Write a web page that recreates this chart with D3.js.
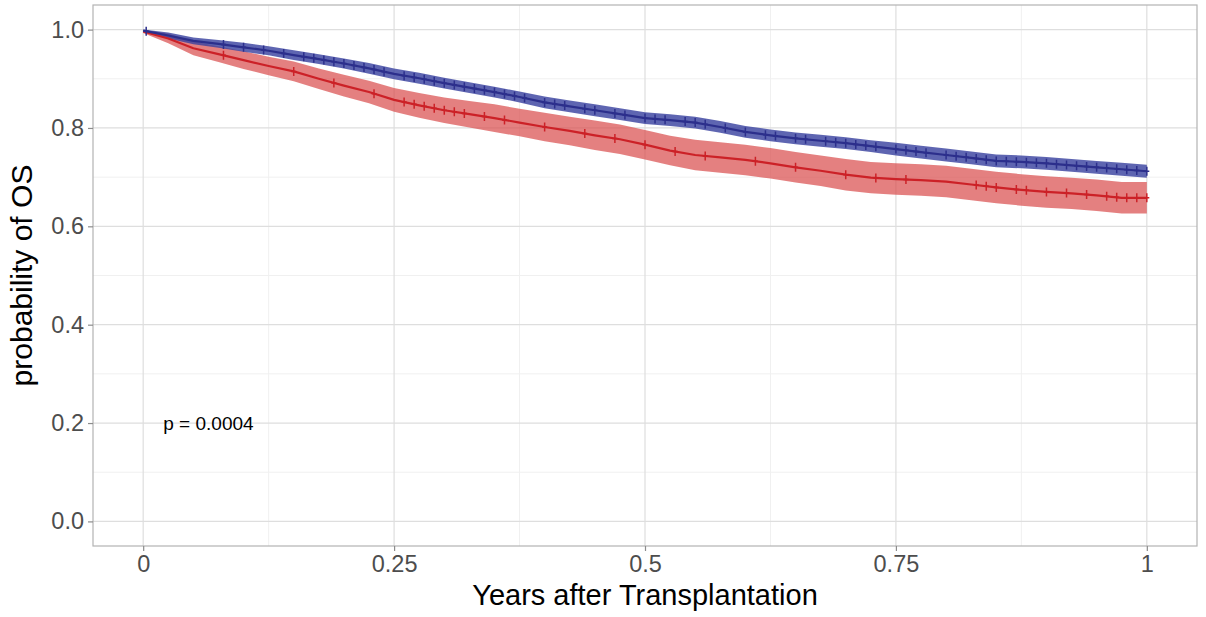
<!DOCTYPE html>
<html>
<head>
<meta charset="utf-8">
<script src="https://cdn.jsdelivr.net/npm/d3@7"></script>
<style>
  html, body { margin: 0; padding: 0; background: #fff; }
  svg { display: block; font-family: "Liberation Sans", Arial, sans-serif; }
</style>
</head>
<body>
<svg id="chart" width="1206" height="617"></svg>
<script>
// ==== Data ====
const times = [0, 0.025, 0.05, 0.075, 0.1, 0.125, 0.15, 0.175, 0.2, 0.225, 0.25, 0.275, 0.3, 0.325,
  0.35, 0.375, 0.4, 0.425, 0.45, 0.475, 0.5, 0.525, 0.55, 0.575, 0.6, 0.625, 0.65, 0.675, 0.7,
  0.725, 0.75, 0.775, 0.8, 0.825, 0.85, 0.875, 0.9, 0.925, 0.95, 0.975, 1.0];

const blueSurv = [0.998, 0.988, 0.977, 0.971, 0.964, 0.957, 0.948, 0.940, 0.931, 0.921, 0.910,
  0.901, 0.891, 0.882, 0.873, 0.863, 0.852, 0.844, 0.836, 0.828, 0.820, 0.816, 0.811, 0.802,
  0.792, 0.785, 0.779, 0.774, 0.769, 0.763, 0.757, 0.751, 0.745, 0.739, 0.733, 0.731, 0.728,
  0.724, 0.720, 0.716, 0.712];
const blueCI = [0.003, .006, .007, .008, .009, .009, .010, .010, .010, .011, .011, .011, .011, .011,
  .011, .011, .012, .012, .012, .012, .012, .012, .012, .012, .012, .012, .012, .012, .012, .012,
  .013, .013, .013, .013, .013, .013, .013, .013, .013, .013, .013];

const redSurv = [0.996, 0.982, 0.962, 0.950, 0.938, 0.926, 0.915, 0.900, 0.886, 0.873, 0.857,
  0.846, 0.836, 0.828, 0.820, 0.811, 0.802, 0.794, 0.785, 0.777, 0.766, 0.754, 0.745, 0.740,
  0.735, 0.728, 0.720, 0.713, 0.705, 0.699, 0.696, 0.694, 0.691, 0.685, 0.679, 0.674, 0.670,
  0.667, 0.663, 0.658, 0.658];
const redCI = [0.003, .010, .014, .016, .018, .019, .020, .021, .022, .023, .024, .025, .026, .027,
  .028, .028, .029, .029, .030, .030, .030, .030, .031, .031, .031, .031, .031, .031, .032, .032,
  .032, .032, .032, .032, .032, .032, .032, .032, .032, .032, .032];

const blueCensor = [0.003, 0.08, 0.1, 0.12, 0.14, 0.16, 0.17, 0.18, 0.19, 0.2, 0.21, 0.22, 0.23,
  0.24, 0.26, 0.27, 0.28, 0.29, 0.3, 0.31, 0.32, 0.33, 0.34, 0.35, 0.36, 0.37, 0.38, 0.4, 0.41,
  0.42, 0.44, 0.45, 0.47, 0.48, 0.5, 0.51, 0.52, 0.54, 0.55, 0.56, 0.58, 0.6, 0.62, 0.63, 0.65,
  0.66, 0.68, 0.69, 0.7, 0.71, 0.72, 0.73, 0.75, 0.76, 0.77, 0.78, 0.8, 0.81, 0.82, 0.83, 0.84,
  0.85, 0.86, 0.87, 0.88, 0.89, 0.9, 0.91, 0.92, 0.93, 0.94, 0.95, 0.96, 0.97, 0.98, 0.99, 1.0];
const redCensor = [0.08, 0.15, 0.19, 0.23, 0.26, 0.27, 0.28, 0.29, 0.3, 0.31, 0.32, 0.34, 0.36,
  0.4, 0.44, 0.47, 0.5, 0.53, 0.56, 0.61, 0.65, 0.7, 0.73, 0.76, 0.83, 0.84, 0.85, 0.87, 0.88,
  0.9, 0.92, 0.94, 0.96, 0.97, 0.98, 0.99, 1.0];

const xTicks = [0, 0.25, 0.5, 0.75, 1];
const xTickLabels = ["0", "0.25", "0.5", "0.75", "1"];
const xMinor = [0.125, 0.375, 0.625, 0.875];
const yTicks = [0, 0.2, 0.4, 0.6, 0.8, 1.0];
const yMinor = [0.1, 0.3, 0.5, 0.7, 0.9];
const pValue = { x: 0.02, y: 0.2, label: "p = 0.0004" };

// ==== Layout ====
const svg = d3.select("#chart");
const panel = { left: 93, right: 1197, top: 5, bottom: 546 };

const x = d3.scaleLinear().domain([-0.05, 1.05]).range([panel.left, panel.right]);
const y = d3.scaleLinear().domain([-0.05, 1.05]).range([panel.bottom, panel.top]);

// grid
const grid = svg.append("g");
grid.selectAll(".vmin").data(xMinor).join("line")
  .attr("x1", d => x(d)).attr("x2", d => x(d)).attr("y1", panel.top).attr("y2", panel.bottom)
  .attr("stroke", "#f0f0f0").attr("stroke-width", 1);
grid.selectAll(".hmin").data(yMinor).join("line")
  .attr("y1", d => y(d)).attr("y2", d => y(d)).attr("x1", panel.left).attr("x2", panel.right)
  .attr("stroke", "#f0f0f0").attr("stroke-width", 1);
grid.selectAll(".vmaj").data(xTicks).join("line")
  .attr("x1", d => x(d)).attr("x2", d => x(d)).attr("y1", panel.top).attr("y2", panel.bottom)
  .attr("stroke", "#dedede").attr("stroke-width", 1.2);
grid.selectAll(".hmaj").data(yTicks).join("line")
  .attr("y1", d => y(d)).attr("y2", d => y(d)).attr("x1", panel.left).attr("x2", panel.right)
  .attr("stroke", "#dedede").attr("stroke-width", 1.2);

// ==== Curves ====
const groups = [
  { surv: redSurv, ci: redCI, censor: redCensor, line: "#cc2127", band: "#d94a4a", bandOp: 0.7 },
  { surv: blueSurv, ci: blueCI, censor: blueCensor, line: "#2c2f8c", band: "#3b43a0", bandOp: 0.82 }
];

const area = d3.area().curve(d3.curveLinear)
  .x(d => x(d.t)).y0(d => y(d.lo)).y1(d => y(d.hi));
const line = d3.line().curve(d3.curveLinear)
  .x(d => x(d.t)).y(d => y(d.s));

const gCurves = svg.append("g");
for (const g of groups) {
  const pts = times.map((t, i) => ({ t, s: g.surv[i], lo: g.surv[i] - g.ci[i], hi: Math.min(1, g.surv[i] + g.ci[i]) }));
  gCurves.append("path").datum(pts).attr("d", area)
    .attr("fill", g.band).attr("fill-opacity", g.bandOp).attr("stroke", "none");
}
for (const g of groups) {
  const pts = times.map((t, i) => ({ t, s: g.surv[i] }));
  const survAt = d3.scaleLinear().domain(times).range(g.surv);
  gCurves.append("path").datum(pts).attr("d", line)
    .attr("fill", "none").attr("stroke", g.line).attr("stroke-width", 2.2)
    .attr("stroke-linejoin", "round");
  gCurves.append("g").selectAll("path").data(g.censor).join("path")
    .attr("d", d => {
      const cx = x(d), cy = y(survAt(d));
      return `M${cx - 2.5},${cy}H${cx + 2.5}M${cx},${cy - 4.5}V${cy + 4.5}`;
    })
    .attr("stroke", g.line).attr("stroke-width", 1.5).attr("fill", "none");
}

// panel border
svg.append("rect")
  .attr("x", panel.left).attr("y", panel.top)
  .attr("width", panel.right - panel.left).attr("height", panel.bottom - panel.top)
  .attr("fill", "none").attr("stroke", "#b3b3b3").attr("stroke-width", 1.2);

// ==== Axes ====
const xAxis = svg.append("g").attr("transform", `translate(0,${panel.bottom})`)
  .call(d3.axisBottom(x).tickValues(xTicks).tickFormat((d, i) => xTickLabels[i]).tickSize(5).tickPadding(4));
const yAxis = svg.append("g").attr("transform", `translate(${panel.left},0)`)
  .call(d3.axisLeft(y).tickValues(yTicks).tickFormat(d3.format(".1f")).tickSize(5).tickPadding(4));
for (const ax of [xAxis, yAxis]) {
  ax.select(".domain").remove();
  ax.selectAll(".tick line").attr("stroke", "#8c8c8c").attr("stroke-width", 1.2);
  ax.selectAll(".tick text").attr("fill", "#4d4d4d")
    .style("font-size", "23.5px")
    .style("font-family", "'Liberation Sans', Arial, sans-serif");
}

// titles
svg.append("text")
  .attr("x", (panel.left + panel.right) / 2).attr("y", 605)
  .attr("text-anchor", "middle").attr("font-size", 29).attr("fill", "#000")
  .text("Years after Transplantation");
svg.append("text")
  .attr("transform", `translate(32,${(panel.top + panel.bottom) / 2}) rotate(-90)`)
  .attr("text-anchor", "middle").attr("font-size", 30).attr("fill", "#000")
  .text("probability of OS");

// p-value
svg.append("text")
  .attr("x", x(pValue.x)).attr("y", y(pValue.y))
  .attr("dy", "0.35em").attr("font-size", 19).attr("fill", "#000")
  .text(pValue.label);
</script>
</body>
</html>
